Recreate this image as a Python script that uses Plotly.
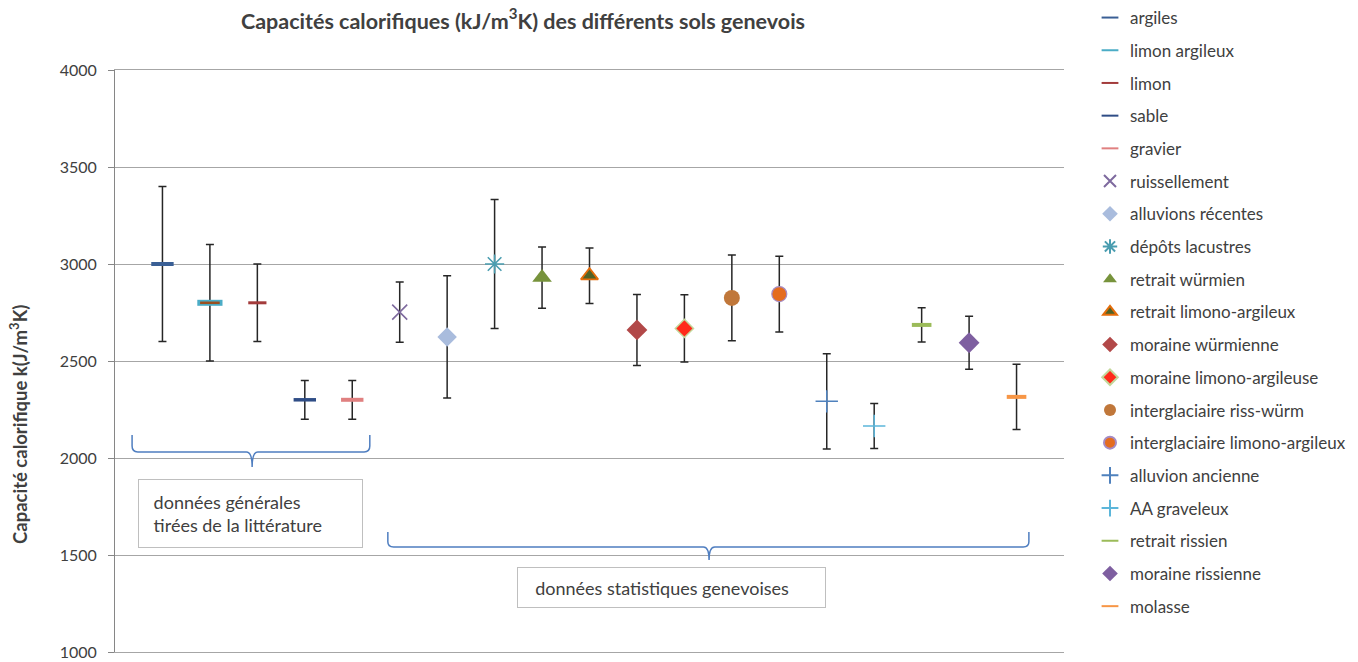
import plotly.graph_objects as go

categories = ["argiles", "limon argileux", "limon", "sable", "gravier", "ruissellement",
              "alluvions récentes", "dépôts lacustres", "retrait würmien", "retrait limono-argileux",
              "moraine würmienne", "moraine limono-argileuse", "interglaciaire riss-würm",
              "interglaciaire limono-argileux", "alluvion ancienne", "AA graveleux",
              "retrait rissien", "moraine rissienne", "molasse"]
means = [3000, 2800, 2800, 2300, 2300, 2752, 2624, 3000, 2930, 2940,
         2660, 2668, 2825, 2845, 2292, 2165, 2686, 2594, 2315]
errors = [400, 300, 200, 100, 100, 155, 315, 333, 158, 143,
          183, 173, 221, 195, 245, 116, 88, 137, 168]
yticks = [1000, 1500, 2000, 2500, 3000, 3500, 4000]

# (symbol, size, fill colour, outline colour, outline width)
styles = [
    ("line-ew", 16, "#3A5F95", "#3A5F95", 4),
    ("line-ew", 18, "#4BACC6", "#4BACC6", 6),
    ("line-ew", 13, "#A33B3B", "#A33B3B", 3),
    ("line-ew", 16, "#2F4D86", "#2F4D86", 3.5),
    ("line-ew", 16, "#E08080", "#E08080", 4),
    ("x-thin-open", 15, "#7E6A9E", "#7E6A9E", 1.6),
    ("diamond", 15, "#A9BCDD", "#A9BCDD", 0),
    ("asterisk-open", 16, "#4A9DB0", "#4A9DB0", 1.6),
    ("triangle-up", 17, "#77933C", "#77933C", 0),
    ("triangle-up", 15, "#4F6228", "#E46C0A", 1.8),
    ("diamond", 16, "#B24848", "#B24848", 0),
    ("diamond", 14, "#FF2A1A", "#C4D79B", 1.5),
    ("circle", 16, "#C0773A", "#C0773A", 0),
    ("circle", 15, "#E46C1F", "#A58BC4", 1.2),
    ("cross-thin-open", 16, "#4F81BD", "#4F81BD", 1.5),
    ("cross-thin-open", 16, "#5CB6DA", "#5CB6DA", 1.5),
    ("line-ew", 14, "#9BBB59", "#9BBB59", 4),
    ("diamond", 16, "#7E5FA0", "#7E5FA0", 0),
    ("line-ew", 14, "#F79646", "#F79646", 4),
]

positions = list(range(1, len(categories) + 1))
FONT = "Lato"
TXT = "#404040"

fig = go.Figure()
for i, (name, m, e) in enumerate(zip(categories, means, errors)):
    sym, size, fill, outline, lw = styles[i]
    if sym.startswith("line") or sym.endswith("open"):
        marker = dict(symbol=sym, size=size, color=outline, line=dict(color=outline, width=lw))
    else:
        marker = dict(symbol=sym, size=size, color=fill, line=dict(color=outline, width=lw))
    fig.add_trace(go.Scatter(
        x=[positions[i]], y=[m], name=name, mode="markers", marker=marker,
        legendgroup=name,
        error_y=dict(type="data", array=[e], symmetric=True, color="#262626",
                     thickness=1.5, width=4),
    ))
    if name == "limon argileux":
        fig.add_trace(go.Scatter(
            x=[positions[i]], y=[m], mode="markers", showlegend=False, hoverinfo="skip",
            marker=dict(symbol="line-ew", size=14, line=dict(color="#9B4F1F", width=2.5)),
        ))

# braces (group indicators)
def brace(x0, x1, xt, ytop, ymid, ybot):
    dx = 0.12
    dy = (ytop - ymid)
    return (f"M {x0} {ytop} L {x0} {ymid + dy*0.35} Q {x0} {ymid} {x0+dx} {ymid} "
            f"L {xt - dx} {ymid} Q {xt} {ymid} {xt} {ybot} "
            f"Q {xt} {ymid} {xt + dx} {ymid} L {x1 - dx} {ymid} "
            f"Q {x1} {ymid} {x1} {ymid + dy*0.35} L {x1} {ytop}")

fig.add_shape(type="path", xref="x", yref="y",
              path=brace(0.36, 5.37, 2.89, 2118, 2031, 1953),
              line=dict(color="#4F7EC0", width=1.5))
fig.add_shape(type="path", xref="x", yref="y",
              path=brace(5.75, 19.26, 12.52, 1618, 1541, 1474),
              line=dict(color="#4F7EC0", width=1.5))

fig.add_annotation(x=2.856, y=1714, xref="x", yref="y", showarrow=False,
                   text="&nbsp;données générales<br>&nbsp;tirées de la littérature",
                   align="left", width=203, height=47, borderpad=10,
                   bordercolor="#BFBFBF", borderwidth=1, bgcolor="white",
                   font=dict(family=FONT, size=18, color=TXT))
fig.add_annotation(x=11.73, y=1332, xref="x", yref="y", showarrow=False,
                   text="&nbsp;&nbsp;données statistiques genevoises",
                   align="left", width=291, height=23, borderpad=8,
                   bordercolor="#BFBFBF", borderwidth=1, bgcolor="white",
                   font=dict(family=FONT, size=18, color=TXT))

fig.add_annotation(xref="paper", yref="paper", x=(18 - 115) / 949, y=(652 - 425) / 582,
                   xanchor="center", yanchor="middle", showarrow=False,
                   text="<b>Capacité calorifique k(J/m<sup>3</sup>K)</b>", textangle=-90,
                   font=dict(family=FONT, size=18.5, color=TXT))

fig.update_layout(
    width=1358, height=662,
    margin=dict(l=115, r=294, t=70, b=10, autoexpand=False),
    paper_bgcolor="white", plot_bgcolor="white",
    font=dict(family=FONT, size=15, color=TXT),
    title=dict(text="<b>Capacités calorifiques (kJ/m<sup>3</sup>K) des différents sols genevois</b>",
               x=523 / 1358, xanchor="center", y=1 - 21 / 662, yanchor="middle",
               font=dict(family=FONT, size=21.5, color=TXT)),
    xaxis=dict(range=[0, 20], showticklabels=False, showgrid=False, zeroline=False,
               showline=True, linecolor="#A6A6A6", linewidth=1, mirror=True, ticks=""),
    yaxis=dict(range=[1000, 4000], tickvals=yticks, showgrid=True, gridcolor="#A6A6A6",
               gridwidth=1, zeroline=False, showline=True, linecolor="#868686", linewidth=1,
               ticks="outside", ticklen=6, tickcolor="#868686", ticklabelstandoff=8,
               tickfont=dict(family=FONT, size=16, color=TXT)),
    legend=dict(xref="container", yref="container", x=1090 / 1358, y=1,
                xanchor="left", yanchor="top", traceorder="grouped", tracegroupgap=7.6,
                maxheight=662, itemsizing="constant",
                font=dict(family=FONT, size=17, color=TXT), bgcolor="rgba(0,0,0,0)"),
    showlegend=True,
)

fig.write_html("out.html", post_script="document.body.style.margin='0';",
               config={"displayModeBar": False})
